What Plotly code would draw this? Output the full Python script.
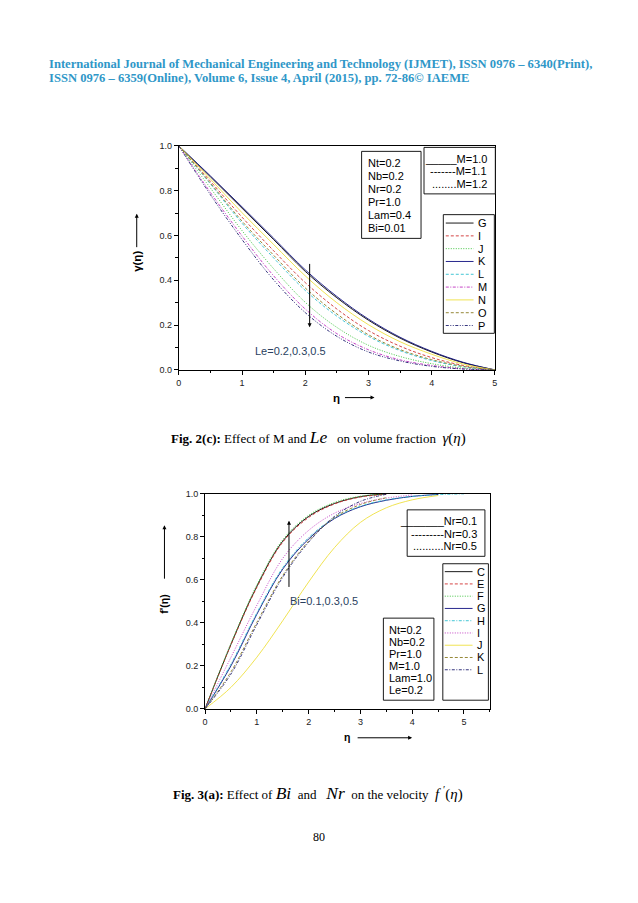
import plotly.graph_objects as go

W, H = 638, 903
def PX(x): return x / W
def PY(y): return 1 - y / H

# ---------------- data: Fig 2(c) gamma(eta) ----------------
eta1 = [0, 0.5, 1.0, 1.5, 2.0, 2.5, 3.0, 3.5, 4.0, 4.5, 5.0]
names1 = ["G", "I", "J", "K", "L", "M", "N", "O", "P"]
G1 = [1, 0.862, 0.722, 0.582, 0.440, 0.322, 0.222, 0.142, 0.080, 0.032, 0]
I1 = [1, 0.842, 0.682, 0.532, 0.390, 0.272, 0.176, 0.106, 0.055, 0.020, 0]
J1 = [1, 0.812, 0.622, 0.452, 0.302, 0.190, 0.110, 0.060, 0.028, 0.008, 0]
K1 = [1, 0.866, 0.728, 0.588, 0.447, 0.328, 0.227, 0.146, 0.083, 0.034, 0]
L1 = [1, 0.830, 0.655, 0.500, 0.355, 0.240, 0.150, 0.086, 0.042, 0.014, 0]
M1 = [1, 0.792, 0.598, 0.420, 0.272, 0.162, 0.090, 0.045, 0.020, 0.005, 0]
N1 = [1, 0.852, 0.702, 0.560, 0.420, 0.300, 0.202, 0.126, 0.070, 0.026, 0]
O1 = [1, 0.834, 0.664, 0.512, 0.366, 0.250, 0.157, 0.091, 0.046, 0.016, 0]
P1 = [1, 0.782, 0.582, 0.402, 0.256, 0.150, 0.080, 0.040, 0.016, 0.004, 0]
vals1 = [G1, I1, J1, K1, L1, M1, N1, O1, P1]
colors1 = ["#000000", "#D03030", "#30C030", "#101080", "#30C0D0",
           "#C030C0", "#EEE040", "#8A7A20", "#202070"]
DASH = "3px,2px"
DOT = "1px,1.5px"
DASHDOT = "3px,1.5px,1px,1.5px"
DASHDOTDOT = "3px,1.5px,1px,1.5px,1px,1.5px"
dash1 = ["solid", DASH, DOT, "solid", DASH, DASHDOT, "solid", DASH, DASHDOTDOT]
params1 = ["Nt=0.2", "Nb=0.2", "Nr=0.2", "Pr=1.0", "Lam=0.4", "Bi=0.01"]
mlabels1 = ["_____M=1.0", "-------M=1.1", "........M=1.2"]

# ---------------- data: Fig 3(a) f'(eta) ----------------
eta2 = [0, 0.5, 1.0, 1.5, 2.0, 2.5, 3.0, 3.5, 4.0, 4.5, 5.0]
names2 = ["C", "E", "F", "G", "H", "I", "J", "K", "L"]
C2 = [0, 0.300, 0.570, 0.780, 0.895, 0.955, 0.987, 1.000]
E2 = [0, 0.298, 0.565, 0.775, 0.890, 0.953, 0.985, 0.998]
F2 = [0, 0.305, 0.576, 0.786, 0.900, 0.960, 0.989, 1.000]
G2 = [0, 0.200, 0.440, 0.650, 0.790, 0.885, 0.940, 0.970, 0.988, 0.997]
H2 = [0, 0.208, 0.446, 0.656, 0.796, 0.888, 0.942, 0.972, 0.988, 0.996, 1.000]
I2 = [0, 0.240, 0.482, 0.700, 0.830, 0.910, 0.955, 0.980, 0.995]
J2 = [0, 0.100, 0.240, 0.410, 0.590, 0.750, 0.867, 0.935, 0.972, 0.992]
K2 = [0, 0.172, 0.402, 0.620, 0.780, 0.890, 0.950, 0.982]
L2 = [0, 0.162, 0.392, 0.612, 0.775, 0.895, 0.965, 0.998]
vals2 = [C2, E2, F2, G2, H2, I2, J2, K2, L2]
colors2 = ["#000000", "#D03030", "#30C030", "#101080", "#30C0D0",
           "#C030C0", "#EEE040", "#8A7A20", "#202070"]
dash2 = ["solid", DASH, DOT, "solid", DASHDOT, DOT, "solid", DASH, DASHDOT]
params2 = ["Nt=0.2", "Nb=0.2", "Pr=1.0", "M=1.0", "Lam=1.0", "Le=0.2"]
nrlabels2 = ["_______Nr=0.1", "---------Nr=0.3", "..........Nr=0.5"]

SANS = "Liberation Sans"
SERIF = "Liberation Serif"
LW = 0.9
FS = 11

fig = go.Figure()
for n, v, c, d in zip(names1, vals1, colors1, dash1):
    fig.add_trace(go.Scatter(x=eta1[:len(v)], y=v, mode="lines", name=n,
                             line=dict(color=c, width=LW, dash=d, shape="spline"),
                             xaxis="x", yaxis="y", showlegend=False))
for n, v, c, d in zip(names2, vals2, colors2, dash2):
    fig.add_trace(go.Scatter(x=eta2[:len(v)], y=v, mode="lines", name=n,
                             line=dict(color=c, width=LW, dash=d, shape="spline"),
                             xaxis="x2", yaxis="y2", showlegend=False))

axcommon = dict(showgrid=False, zeroline=False, showline=True, linecolor="#000",
                linewidth=1, mirror=True, ticks="outside", ticklen=4,
                tickwidth=0.8, tickcolor="#000",
                tickfont=dict(family=SANS, size=9, color="#222"))
minor = dict(ticks="outside", ticklen=2.5, tickwidth=0.7, tickcolor="#000")

fig.update_layout(
    width=W, height=H, margin=dict(l=0, r=0, t=0, b=0),
    paper_bgcolor="white", plot_bgcolor="white",
    xaxis=dict(domain=[PX(177.5), PX(496.5)], range=[0, 5], dtick=1,
               anchor="y", minor=dict(dtick=0.5, **minor), **axcommon),
    yaxis=dict(domain=[PY(369), PY(142.5)], range=[0, 1], dtick=0.2,
               tickformat=".1f", anchor="x", minor=dict(dtick=0.1, **minor),
               **axcommon),
    xaxis2=dict(domain=[PX(204), PX(491.5)], range=[0, 5.5], dtick=1,
                anchor="y2", minor=dict(dtick=0.5, **minor), **axcommon),
    yaxis2=dict(domain=[PY(711.7), PY(494.3)], range=[0, 1], dtick=0.2,
                tickformat=".1f", anchor="x2", minor=dict(dtick=0.1, **minor),
                **axcommon),
)

shapes = []
ann = []

def box(x0, y0, x1, y1):
    shapes.append(dict(type="rect", xref="paper", yref="paper",
                       x0=PX(x0), x1=PX(x1), y0=PY(y1), y1=PY(y0),
                       line=dict(color="#000", width=0.9), fillcolor="white",
                       layer="above"))

def txt(x, y, s, size=FS, anchor="left", family=SANS, color="#000", angle=0):
    ann.append(dict(x=PX(x), y=PY(y), xref="paper", yref="paper", text=s,
                    showarrow=False, xanchor=anchor, yanchor="middle",
                    textangle=angle, font=dict(family=family, size=size, color=color)))

def arrow(xh, yh, xt, yt):
    ann.append(dict(x=PX(xh), y=PY(yh), xref="paper", yref="paper",
                    ax=xt - xh, ay=yt - yh, text="", showarrow=True,
                    arrowhead=2, arrowsize=0.8, arrowwidth=1, arrowcolor="#000"))

# header
HC = "#2F97C8"
txt(44, 60, "<b>International Journal of Mechanical Engineering and Technology (IJMET), ISSN 0976 – 6340(Print),</b>",
    size=12.6, family=SERIF, color=HC)
txt(44, 73.5, "<b>ISSN 0976 – 6359(Online), Volume 6, Issue 4, April (2015), pp. 72-86© IAEME</b>",
    size=12.6, family=SERIF, color=HC)

# ---- chart 1 decorations ----
box(362, 148, 422, 236)
for i, s in enumerate(params1):
    txt(366, 159.5 + i * 13.3, s)
box(425, 144, 497, 191)
for i, s in enumerate(mlabels1):
    txt(491, 155.5 + i * 12.5, s, anchor="right")
box(444.5, 212, 496, 332)
for i, (n, c, d) in enumerate(zip(names1, colors1, dash1)):
    yy = 220.5 + i * 12.95
    shapes.append(dict(type="line", xref="paper", yref="paper",
                       x0=PX(447), x1=PX(475), y0=PY(yy), y1=PY(yy),
                       line=dict(color=c, width=LW, dash=d)))
    txt(477.5, yy, n)

ann.append(dict(x=2.07, y=0.19, xref="x", yref="y", ax=2.07, ay=0.48,
                axref="x", ayref="y", text="", showarrow=True, arrowhead=2,
                arrowsize=0.8, arrowwidth=1, arrowcolor="#000"))
ann.append(dict(x=1.17, y=0.085, xref="x", yref="y", text="Le=0.2,0.3,0.5",
                showarrow=False, xanchor="left", font=dict(family=SANS, size=FS)))
# axis labels chart 1
txt(135, 259, "<b>γ(η)</b>", size=11.5, angle=-90, anchor="center")
arrow(135, 211, 135, 246)
txt(337, 397, "<b>η</b>", size=11.5, anchor="center")
arrow(375, 397, 344, 397)
# caption 1
txt(168, 437,
    "<b>Fig. 2(c):</b> Effect of M and <span style='font-size:17.5px'><i>Le</i></span>"
    "\u00a0\u00a0\u00a0on volume fraction\u00a0\u00a0<span style='font-size:15px'><i>γ</i>(<i>η</i>)</span>",
    size=13, family=SERIF)

# ---- chart 2 decorations ----
box(408, 510.5, 486.5, 557.5)
for i, s in enumerate(nrlabels2):
    txt(481, 522 + i * 12.5, s, anchor="right")
box(444, 565, 490, 703)
for i, (n, c, d) in enumerate(zip(names2, colors2, dash2)):
    yy = 573 + i * 12.4
    shapes.append(dict(type="line", xref="paper", yref="paper",
                       x0=PX(446), x1=PX(474), y0=PY(yy), y1=PY(yy),
                       line=dict(color=c, width=LW, dash=d)))
    txt(476, yy, n)
box(384, 620, 435, 703)
for i, s in enumerate(params2):
    txt(387.5, 632 + i * 12.1, s)

ann.append(dict(x=1.62, y=0.875, xref="x2", yref="y2", ax=1.62, ay=0.56,
                axref="x2", ayref="y2", text="", showarrow=True, arrowhead=2,
                arrowsize=0.8, arrowwidth=1, arrowcolor="#000"))
ann.append(dict(x=1.6, y=0.50, xref="x2", yref="y2", text="Bi=0.1,0.3,0.5",
                showarrow=False, xanchor="left", font=dict(family=SANS, size=FS)))
txt(163, 606, "<b>f'(η)</b>", size=10.5, angle=-90, anchor="center")
arrow(163, 526, 163, 581)
txt(347, 740, "<b>η</b>", size=10.5, anchor="center")
arrow(413, 741, 357, 741)
# caption 2
txt(170, 797,
    "<b>Fig. 3(a):</b> Effect of <span style='font-size:17.5px'><i>Bi</i></span>\u00a0 and\u00a0\u00a0\u00a0"
    "<span style='font-size:17.5px'><i>Nr</i></span>\u00a0 on the velocity\u00a0 "
    "<span style='font-size:15px'><i>f</i> <sup>′</sup>(<i>η</i>)</span>",
    size=13, family=SERIF)

txt(319, 841, "80", size=12, family=SERIF, anchor="center")

fig.update_layout(shapes=shapes, annotations=ann)
fig.write_html("out.html", config={"displayModeBar": False},
               post_script="document.body.style.margin='0';document.body.style.overflow='hidden';")
